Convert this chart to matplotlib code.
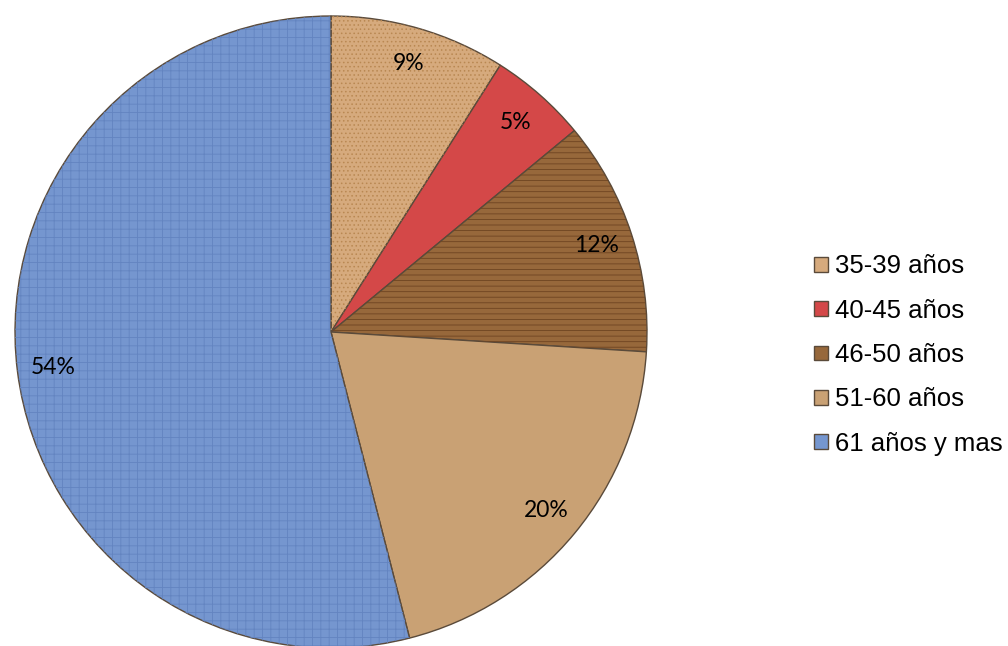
import matplotlib.pyplot as plt

plt.rcParams['font.family'] = ['Liberation Sans', 'DejaVu Sans']
plt.rcParams['hatch.linewidth'] = 0.6

grupos = ['35-39 años', '40-45 años', '46-50 años', '51-60 años', '61 años y mas']
porcentajes = [9, 5, 12, 20, 54]
colores = ['#d6aa7d', '#d44848', '#97683b', '#c9a174', '#7596cf']
tramas = ['....', None, '---', None, '++']
color_trama = ['#b98852', '#d44848', '#6e4421', '#c9a174', '#6384c0']

fig = plt.figure(figsize=(10.08, 6.46), dpi=100)
ax = fig.add_axes([0, 0, 1, 1])

centro = (331, 314)
radio = 316

wedges, _, autotexts = ax.pie(
    porcentajes, colors=colores, startangle=90, counterclock=False,
    center=centro, radius=radio, autopct='%1.0f%%', pctdistance=0.885,
    wedgeprops=dict(edgecolor='#5a4a3a', linewidth=1.0),
    textprops=dict(fontsize=16.5, color='black', family=['Lato', 'DejaVu Sans']),
    frame=True)

# textura encima de cada sector
capa, _ = ax.pie(porcentajes, startangle=90, counterclock=False,
                 center=centro, radius=radio, frame=True)
for w, h, hc in zip(capa, tramas, color_trama):
    w.set_facecolor('none')
    w.set_edgecolor(hc)
    w.set_linewidth(0)
    if h:
        w.set_hatch(h)
    w.set_zorder(1.5)
for t in autotexts:
    t.set_zorder(5)

ax.set_xlim(0, 1008)
ax.set_ylim(0, 646)
ax.set_aspect('equal')
ax.axis('off')

ax.legend(wedges, grupos, loc='center left', bbox_to_anchor=(814, 291),
          bbox_transform=ax.transData, frameon=False, fontsize=18.5,
          handlelength=0.55, handleheight=0.5, handletextpad=0.25,
          labelspacing=0.79, borderpad=0, borderaxespad=0)

fig.savefig('out.png', dpi=100)
